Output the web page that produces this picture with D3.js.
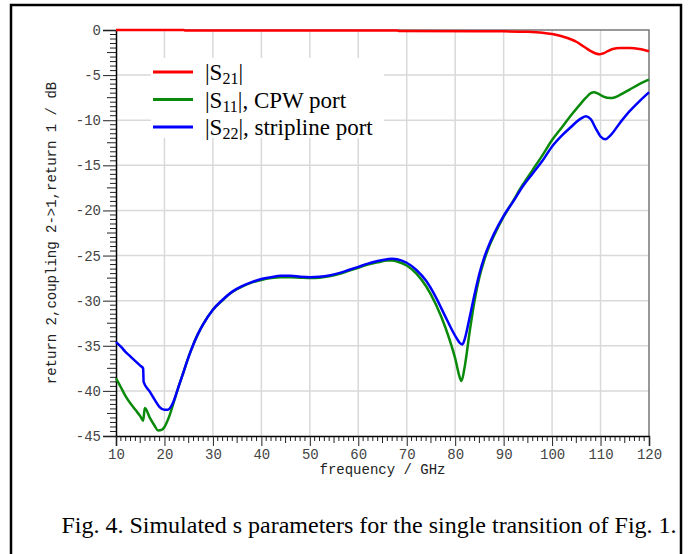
<!DOCTYPE html>
<html>
<head>
<meta charset="utf-8">
<script src="https://cdn.jsdelivr.net/npm/d3@7"></script>
<style>
  body { margin: 0; background: #fff; }
  svg { display: block; }
  .axis-title { font-family: "Liberation Mono", monospace; font-size: 14px; fill: #222; }
  .serif { font-family: "Liberation Serif", "Times New Roman", serif; fill: #000; }
</style>
</head>
<body>
<svg id="chart"></svg>
<script>
// |S21| (red)
const s21Freq = [10, 24, 24.2, 68, 68.3, 90, 95, 98, 100, 102, 104, 105, 106, 107, 108, 109, 109.8, 110.5, 111.5, 112.5, 114, 116, 118, 120];
const s21Db   = [0, 0, -0.05, -0.05, -0.1, -0.15, -0.2, -0.3, -0.45, -0.7, -1.05, -1.3, -1.65, -2.0, -2.35, -2.6, -2.7, -2.6, -2.35, -2.1, -2.0, -2.0, -2.1, -2.35];

// |S11|, CPW port (green)
const s11Freq = [10, 11, 12, 13, 14, 15, 15.6, 15.95, 17, 18, 18.7, 19.5, 20, 21, 22, 23, 24, 25, 26, 27, 28, 30, 32, 34, 36, 38, 40,
  42, 44, 46, 48, 50, 52, 54, 56, 58, 60, 62, 64, 66, 67, 68, 70, 72, 74, 76, 78, 80, 81, 81.3, 82, 83, 84, 85, 86, 87, 88, 90,
  92, 94, 96, 98, 100, 102, 104, 106, 107, 108, 108.6, 109.5, 110.5, 112, 113, 114, 116, 118, 120];
const s11Db   = [-38.6, -39.6, -40.6, -41.4, -42.1, -42.8, -43.3, -41.9, -43.0, -43.9, -44.4, -44.3, -44.0, -42.8, -41.1, -39.4, -37.8,
  -36.2, -34.8, -33.6, -32.6, -31.0, -29.95, -29.05, -28.45, -28.0, -27.7, -27.5, -27.4, -27.4, -27.45, -27.5, -27.45, -27.3,
  -27.05, -26.7, -26.35, -26.0, -25.75, -25.55, -25.55, -25.65, -26.1, -27.0, -28.4, -30.4, -33.0, -36.4, -38.6, -38.9, -37.2,
  -33.4, -30.0, -27.4, -25.5, -24.0, -22.8, -20.7, -18.9, -17.1, -15.5, -13.9, -12.2, -10.8, -9.4, -8.1, -7.5, -7.0, -6.9,
  -7.05, -7.35, -7.55, -7.45, -7.2, -6.6, -6.0, -5.5];

// |S22|, stripline port (blue)
const s22Freq = [10, 11, 12, 13, 14, 15, 15.6, 15.7, 17, 18, 19, 20, 20.6, 21.5, 22, 23, 24, 25, 26, 27, 28, 30, 32, 34, 36, 38, 40,
  42, 44, 46, 48, 50, 52, 54, 56, 58, 60, 62, 64, 66, 67, 68, 70, 72, 74, 76, 78, 80, 81, 81.5, 82, 83, 84, 85, 86, 87, 88, 90,
  92, 94, 96, 98, 100, 102, 104, 105, 106, 107, 108, 109, 110, 111, 112, 114, 116, 118, 120];
const s22Db   = [-34.6, -35.1, -35.7, -36.2, -36.7, -37.2, -37.5, -39.0, -40.1, -41.0, -41.8, -42.1, -42.1, -41.6, -41.0, -39.4, -37.8,
  -36.2, -34.8, -33.6, -32.6, -31.0, -29.9, -29.0, -28.4, -27.95, -27.6, -27.4, -27.25, -27.25, -27.35, -27.4, -27.35, -27.2,
  -26.95, -26.6, -26.25, -25.9, -25.6, -25.4, -25.35, -25.4, -25.8, -26.6, -27.8, -29.6, -31.8, -33.9, -34.7, -34.85, -34.2,
  -31.8, -29.3, -27.0, -25.2, -23.8, -22.6, -20.6, -19.0, -17.3, -15.9, -14.5, -12.9, -11.7, -10.7, -10.2, -9.8, -9.55, -9.9,
  -10.9, -11.8, -12.1, -11.7, -10.3, -9.0, -7.9, -6.9];

const xTicks = [10, 20, 30, 40, 50, 60, 70, 80, 90, 100, 110, 120];
const yTicks = [0, -5, -10, -15, -20, -25, -30, -35, -40, -45];

const seriesColors = ['#ff0000', '#0a8a0a', '#0000ff'];

const WIDTH  = 688;
const HEIGHT = 554;
const margin = { top: 30, left: 116 };
const width  = 533;
const height = 406;

const svg = d3.select('#chart')
  .attr('width', WIDTH)
  .attr('height', HEIGHT);

// outer figure frame
svg.append('rect')
  .attr('x', 11).attr('y', 5)
  .attr('width', 670).attr('height', 560)
  .attr('fill', 'none').attr('stroke', '#000').attr('stroke-width', 2.5);

const x = d3.scaleLinear().domain([10, 120]).range([0, width]);
const y = d3.scaleLinear().domain([-45, 0]).range([height, 0]);

const g = svg.append('g')
  .attr('transform', `translate(${margin.left},${margin.top})`);

// grid
g.append('g')
  .selectAll('line')
  .data(xTicks.slice(1, -1))
  .join('line')
  .attr('x1', d => x(d)).attr('x2', d => x(d))
  .attr('y1', 0).attr('y2', height)
  .attr('stroke', '#d9d9d9').attr('stroke-width', 1.5);

g.append('g')
  .selectAll('line')
  .data(yTicks.slice(1, -1))
  .join('line')
  .attr('x1', 0).attr('x2', width)
  .attr('y1', d => y(d)).attr('y2', d => y(d))
  .attr('stroke', '#d9d9d9').attr('stroke-width', 1.5);

// top / right frame
g.append('path')
  .attr('d', `M0,0H${width}V${height}`)
  .attr('fill', 'none').attr('stroke', '#777').attr('stroke-width', 1.5);

// minor / medium ticks
const yMinor = d3.range(0, -45.01, -0.5).filter(v => v % 5 !== 0);
const xMinor = d3.range(10, 120.01, 1).filter(v => v % 10 !== 0);

g.append('g')
  .selectAll('line')
  .data(yMinor)
  .join('line')
  .attr('x1', d => (Math.abs(d % 5) === 2.5 ? -9 : -6)).attr('x2', 0)
  .attr('y1', d => y(d)).attr('y2', d => y(d))
  .attr('stroke', '#222').attr('stroke-width', 1);

g.append('g')
  .selectAll('line')
  .data(xMinor)
  .join('line')
  .attr('x1', d => x(d)).attr('x2', d => x(d))
  .attr('y1', height).attr('y2', d => height + (d % 5 === 0 ? 7 : 5))
  .attr('stroke', '#222').attr('stroke-width', 1);

// main axes
const yAxis = g.append('g')
  .call(d3.axisLeft(y).tickValues(yTicks).tickSize(13).tickPadding(2).tickFormat(d => String(d)));

const xAxis = g.append('g')
  .attr('transform', `translate(0,${height})`)
  .call(d3.axisBottom(x).tickValues(xTicks).tickSize(10).tickPadding(3));

[yAxis, xAxis].forEach(ax => {
  ax.attr('font-family', '"Liberation Mono", monospace').attr('font-size', 14);
  ax.select('.domain').attr('stroke', '#000').attr('stroke-width', 1.5);
  ax.selectAll('.tick line').attr('stroke', '#222');
  ax.selectAll('.tick text').attr('fill', '#444');
});

// axis titles
g.append('text')
  .attr('class', 'axis-title')
  .attr('x', width / 2)
  .attr('y', height + 38)
  .attr('text-anchor', 'middle')
  .text('frequency / GHz');

g.append('text')
  .attr('class', 'axis-title')
  .attr('transform', `translate(${51 - margin.left},${height / 2}) rotate(-90)`)
  .attr('text-anchor', 'middle')
  .attr('dy', '0.35em')
  .text('return 2,coupling 2->1,return 1 / dB');

// curves
const line = d3.line()
  .x(d => x(d[0]))
  .y(d => y(d[1]))
  .curve(d3.curveMonotoneX);

const series = [
  { pts: d3.zip(s11Freq, s11Db), color: seriesColors[1] },
  { pts: d3.zip(s22Freq, s22Db), color: seriesColors[2] },
  { pts: d3.zip(s21Freq, s21Db), color: seriesColors[0] },
];

g.append('g')
  .selectAll('path')
  .data(series)
  .join('path')
  .attr('d', d => line(d.pts))
  .attr('fill', 'none')
  .attr('stroke', d => d.color)
  .attr('stroke-width', 2.5)
  .attr('stroke-linejoin', 'round');

// legend
const legend = svg.append('g');
legend.append('rect')
  .attr('x', 151).attr('y', 58)
  .attr('width', 233).attr('height', 80)
  .attr('fill', '#fff');

const legendY = [72, 99.5, 127];
const subs = ['21', '11', '22'];
const tails = ['|', '|, CPW port', '|, stripline port'];

subs.forEach((sub, i) => {
  legend.append('line')
    .attr('x1', 153).attr('x2', 193)
    .attr('y1', legendY[i]).attr('y2', legendY[i])
    .attr('stroke', seriesColors[i]).attr('stroke-width', 3);
  const t = legend.append('text')
    .attr('class', 'serif')
    .attr('x', 205)
    .attr('y', legendY[i] + 8)
    .attr('font-size', 23);
  t.append('tspan').text('|S');
  t.append('tspan').attr('font-size', 16).attr('dy', 4).text(sub);
  t.append('tspan').attr('dy', -4).text(tails[i]);
});

// caption
svg.append('text')
  .attr('class', 'serif')
  .attr('x', 369)
  .attr('y', 533)
  .attr('text-anchor', 'middle')
  .attr('font-size', 24)
  .text('Fig. 4. Simulated s parameters for the single transition of Fig. 1.');
</script>
</body>
</html>
